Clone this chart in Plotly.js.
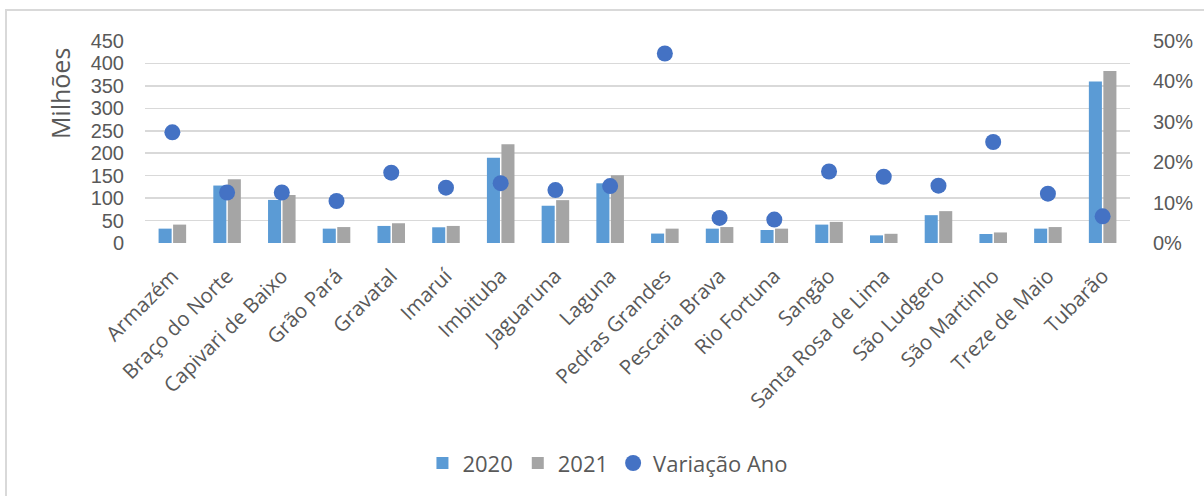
<!DOCTYPE html>
<html>
<head>
<meta charset="utf-8">
<script src="https://cdn.plot.ly/plotly-3.0.1.min.js"></script>
<style>
html, body { margin: 0; padding: 0; background: #fff; }
#wrap { position: relative; width: 1204px; height: 496px; overflow: hidden; }
#chart { position: absolute; left: 0; top: 0; width: 1204px; height: 496px; }
#frame { position: absolute; left: 5px; top: 9px; width: 1210px; height: 500px;
  border-left: 2px solid #d9d9d9; border-top: 2px solid #d9d9d9; pointer-events: none; }
</style>
</head>
<body>
<div id="wrap">
  <div id="chart"></div>
  <div id="frame"></div>
</div>
<script>
const categories = ["Armazém", "Braço do Norte", "Capivari de Baixo", "Grão Pará", "Gravatal", "Imaruí",
  "Imbituba", "Jaguaruna", "Laguna", "Pedras Grandes", "Pescaria Brava", "Rio Fortuna", "Sangão",
  "Santa Rosa de Lima", "São Ludgero", "São Martinho", "Treze de Maio", "Tubarão"];
const values2020 = [32, 128, 96, 32, 38, 35, 190, 83, 133, 21, 32, 29, 41, 17, 62, 20, 32, 360];
const values2021 = [41, 142, 107, 35.5, 44, 38, 220, 95.5, 151, 32, 35.5, 32, 47, 20.5, 71, 23.5, 35.5, 383];
const variacao = [0.274, 0.125, 0.125, 0.104, 0.174, 0.137, 0.148, 0.131, 0.141, 0.469, 0.062, 0.058,
  0.177, 0.164, 0.142, 0.250, 0.122, 0.066];
const leftTicks = [0, 50, 100, 150, 200, 250, 300, 350, 400, 450];
const rightTicks = [0, 0.1, 0.2, 0.3, 0.4, 0.5];

const grey = "#595959";
const tickFont = { family: "Liberation Sans, Arial, sans-serif", size: 20, color: grey };

const traces = [
  { type: "bar", name: "2020", x: categories, y: values2020, marker: { color: "#5B9BD5" }, yaxis: "y" },
  { type: "bar", name: "2021", x: categories, y: values2021, marker: { color: "#A5A5A5" }, yaxis: "y" },
  { type: "scatter", mode: "markers", name: "Variação Ano", x: categories, y: variacao, yaxis: "y2",
    marker: { color: "#4472C4", size: 16 } }
];

const layout = {
  width: 1204, height: 496,
  margin: { l: 145, r: 74, t: 41, b: 253 },
  paper_bgcolor: "rgba(0,0,0,0)", plot_bgcolor: "rgba(0,0,0,0)",
  font: { family: "Open Sans, sans-serif", size: 20, color: grey },
  barmode: "group", bargap: 0.47, bargroupgap: 0.1,
  showlegend: true,
  legend: { orientation: "h", x: 0.47, xanchor: "center", y: -1.09, yanchor: "middle",
    font: { family: "Open Sans, sans-serif", size: 22, color: grey }, itemwidth: 30, traceorder: "normal" },
  xaxis: { type: "category", range: [-0.5, categories.length - 0.5], tickangle: -45,
    tickfont: { family: "Open Sans, sans-serif", size: 20.5, color: grey }, showgrid: false,
    showline: false, zeroline: false, ticks: "", ticklabelstandoff: 16, automargin: false, fixedrange: true },
  yaxis: { range: [0, 450], tickvals: leftTicks, ticktext: leftTicks.map(String), showgrid: true,
    gridcolor: "#d9d9d9", gridwidth: 1.5, zeroline: false, showline: false, ticks: "",
    ticklabelstandoff: 20, tickfont: tickFont, automargin: false, fixedrange: true },
  yaxis2: { overlaying: "y", side: "right", range: [0, 0.5], tickvals: rightTicks,
    ticktext: rightTicks.map(v => Math.round(v * 100) + "%"), showgrid: false, zeroline: false,
    showline: false, ticks: "", ticklabelstandoff: 22, tickfont: tickFont, automargin: false, fixedrange: true },
  annotations: [
    { text: "Milhões", xref: "paper", yref: "paper", x: -0.0863, y: 0.742, textangle: -90,
      showarrow: false, font: { family: "Open Sans, sans-serif", size: 25, color: grey },
      xanchor: "center", yanchor: "middle" }
  ]
};

Plotly.newPlot("chart", traces, layout, { staticPlot: true, displayModeBar: false });
</script>
</body>
</html>
